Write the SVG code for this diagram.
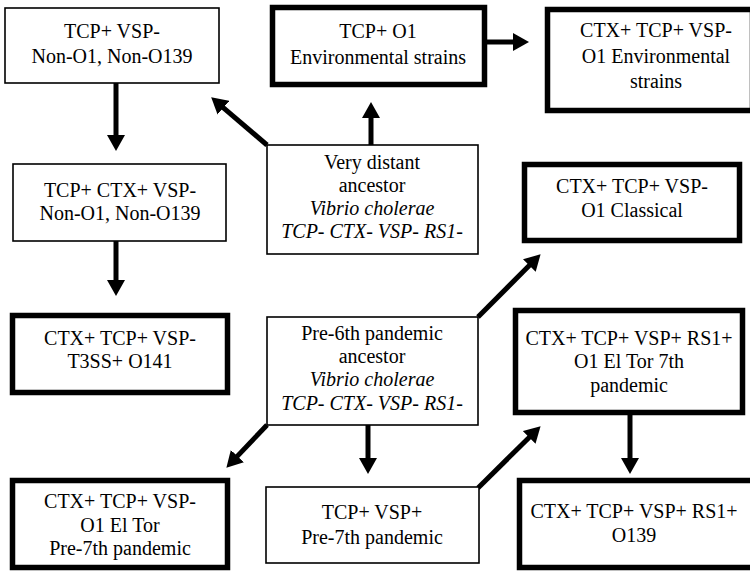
<svg xmlns="http://www.w3.org/2000/svg" width="750" height="571" viewBox="0 0 750 571">
<style>
text{font-size:20px;fill:#000;text-anchor:middle}
.i{font-style:italic}
.thin{fill:#fff;stroke:#000;stroke-width:1.6}
.thick{fill:#fff;stroke:#000;stroke-width:5.5}
.arr{stroke:#000;stroke-width:5;fill:none;marker-end:url(#ah)}
</style>
<defs>
<marker id="ah" markerUnits="userSpaceOnUse" viewBox="0 0 16 18" refX="1" refY="9" markerWidth="16" markerHeight="18" orient="auto">
<path d="M0,0 L16,9 L0,18 z" fill="#000"/>
</marker>
</defs>
<rect width="750" height="571" fill="#fff"/>
<g id="connectors">
<line class="arr" x1="116" y1="83" x2="116" y2="136"/>
<line class="arr" x1="116" y1="241" x2="116" y2="281"/>
<line class="arr" x1="267" y1="145" x2="222.6" y2="107.1"/>
<line class="arr" x1="371" y1="145" x2="371" y2="117"/>
<line class="arr" x1="485" y1="42" x2="514" y2="42"/>
<line class="arr" x1="478" y1="317" x2="530" y2="264.8"/>
<line class="arr" x1="267" y1="425" x2="236.7" y2="456.9"/>
<line class="arr" x1="368" y1="425" x2="368" y2="459"/>
<line class="arr" x1="478" y1="488" x2="529.9" y2="436.7"/>
<line class="arr" x1="630" y1="414" x2="630" y2="459"/>
</g>
<g font-family="Liberation Serif, DejaVu Serif, serif">
<g id="n1">
<rect class="thin" x="5" y="8" width="214" height="75"/>
<text x="112" y="38">TCP+ VSP-</text>
<text x="112" y="63">Non-O1, Non-O139</text>
</g>
<g id="n2">
<rect class="thick" x="272.5" y="7.5" width="212" height="77"/>
<text x="378" y="38">TCP+ O1</text>
<text x="378" y="64">Environmental strains</text>
</g>
<g id="n3">
<rect class="thick" x="547.5" y="9.5" width="205" height="101"/>
<text x="656" y="37">CTX+ TCP+ VSP-</text>
<text x="656" y="63">O1 Environmental</text>
<text x="656" y="88">strains</text>
</g>
<g id="n4">
<rect class="thin" x="267" y="145" width="211" height="109"/>
<text x="372" y="169">Very distant</text>
<text x="372" y="192">ancestor</text>
<text class="i" x="372" y="215">Vibrio cholerae</text>
<text class="i" x="372" y="238">TCP- CTX- VSP- RS1-</text>
</g>
<g id="n5">
<rect class="thin" x="13" y="164" width="213" height="77"/>
<text x="120" y="197">TCP+ CTX+ VSP-</text>
<text x="120" y="220">Non-O1, Non-O139</text>
</g>
<g id="n6">
<rect class="thick" x="524.5" y="164.5" width="215" height="76"/>
<text x="632" y="193">CTX+ TCP+ VSP-</text>
<text x="632" y="217">O1 Classical</text>
</g>
<g id="n7">
<rect class="thick" x="12.5" y="315.5" width="215" height="77"/>
<text x="120" y="345">CTX+ TCP+ VSP-</text>
<text x="120" y="368">T3SS+ O141</text>
</g>
<g id="n8">
<rect class="thin" x="267" y="317" width="211" height="108"/>
<text x="372" y="340">Pre-6th pandemic</text>
<text x="372" y="363">ancestor</text>
<text class="i" x="372" y="386">Vibrio cholerae</text>
<text class="i" x="372" y="410">TCP- CTX- VSP- RS1-</text>
</g>
<g id="n9">
<rect class="thick" x="515.5" y="310.5" width="227" height="102"/>
<text x="629" y="345">CTX+ TCP+ VSP+ RS1+</text>
<text x="629" y="368">O1 El Tor 7th</text>
<text x="629" y="392">pandemic</text>
</g>
<g id="n10">
<rect class="thick" x="12.5" y="480.5" width="215" height="87"/>
<text x="120" y="508">CTX+ TCP+ VSP-</text>
<text x="120" y="532">O1 El Tor</text>
<text x="120" y="555">Pre-7th pandemic</text>
</g>
<g id="n11">
<rect class="thin" x="266" y="487" width="213" height="76"/>
<text x="372" y="519">TCP+ VSP+</text>
<text x="372" y="544">Pre-7th pandemic</text>
</g>
<g id="n12">
<rect class="thick" x="519.5" y="480.5" width="235" height="87"/>
<text x="634" y="518">CTX+ TCP+ VSP+ RS1+</text>
<text x="634" y="542">O139</text>
</g>
</g>
</svg>
